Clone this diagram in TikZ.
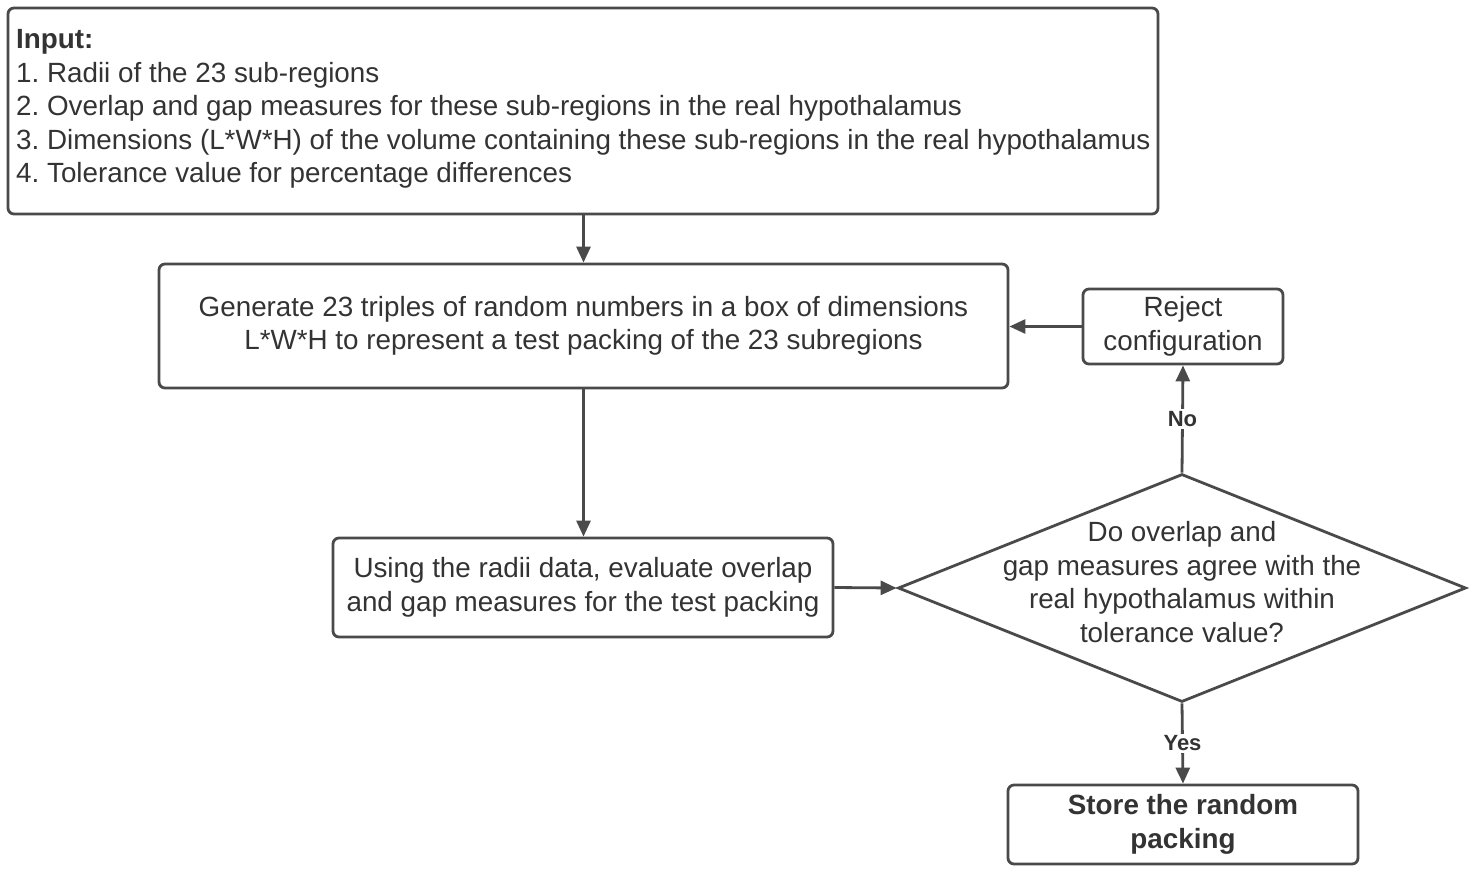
\documentclass[tikz,border=0pt]{standalone}
\usepackage{fontspec}
\setmainfont{Liberation Sans}
\usetikzlibrary{arrows.meta,shapes.geometric}
\definecolor{linec}{HTML}{4A4A4A}
\definecolor{textc}{HTML}{333333}
\frenchspacing
\begin{document}
\begin{tikzpicture}[x=1pt,y=-1pt,
  every node/.style={text=textc, font=\fontsize{27.8}{33.5}\selectfont},
  box/.style={draw=linec, line width=2.8pt, rounded corners=6pt, inner sep=0pt, fill=white},
  conn/.style={draw=linec, line width=2.8pt, -{Triangle[length=16pt,width=14pt]}},
  lab/.style={fill=white, inner sep=2pt, font=\bfseries\fontsize{22}{25}\selectfont}]
\useasboundingbox (0,0) rectangle (1477,873);
% input
\node[box, minimum width=1150pt, minimum height=206pt] (input) at (583,111) {};
\node[anchor=west, align=left, inner sep=0pt] (inputtxt) at (16,109)
  {\textbf{Input:}\\
   1. Radii of the 23 sub-regions\\
   2. Overlap and gap measures for these sub-regions in the real hypothalamus\\
   3. Dimensions (L*W*H) of the volume containing these sub-regions in the real hypothalamus\\
   4. Tolerance value for percentage differences};
% generate
\node[box, minimum width=849pt, minimum height=124pt, align=center] (gen) at (583.5,326)
  {Generate 23 triples of random numbers in a box of dimensions\\L*W*H to represent a test packing of the 23 subregions};
% reject
\node[box, minimum width=200pt, minimum height=75pt, align=center] (rej) at (1183,326.5)
  {Reject\\configuration};
% using
\node[box, minimum width=500pt, minimum height=99pt, align=center] (use) at (583,587.5)
  {Using the radii data, evaluate overlap\\and gap measures for the test packing};
% diamond
\node[diamond, draw=linec, line width=2.8pt, fill=white, inner sep=0pt,
      minimum width=568pt, minimum height=228pt, aspect=2.49] (dec) at (1182,588) {};
\node[align=center, inner sep=0pt] (dectxt) at (1182,582)
  {Do overlap and\\gap measures agree with the\\real hypothalamus within\\tolerance value?};
% store
\node[box, minimum width=350pt, minimum height=79pt, align=center, font=\bfseries\fontsize{27.8}{33.5}\selectfont] (store) at (1183,824.5)
  {Store the random\\packing};
% connectors
\draw[conn] (input.south -| gen.north) -- (gen.north);
\draw[conn] (gen.south) -- (use.north -| gen.south);
\draw[conn] (use.east) -- (dec.west);
\draw[conn] (dec.north) -- node[lab] (no) {No} (rej.south);
\draw[conn] (rej.west) -- (gen.east |- rej.west);
\draw[conn] (dec.south) -- node[lab] (yes) {Yes} (store.north);
\end{tikzpicture}
\end{document}
